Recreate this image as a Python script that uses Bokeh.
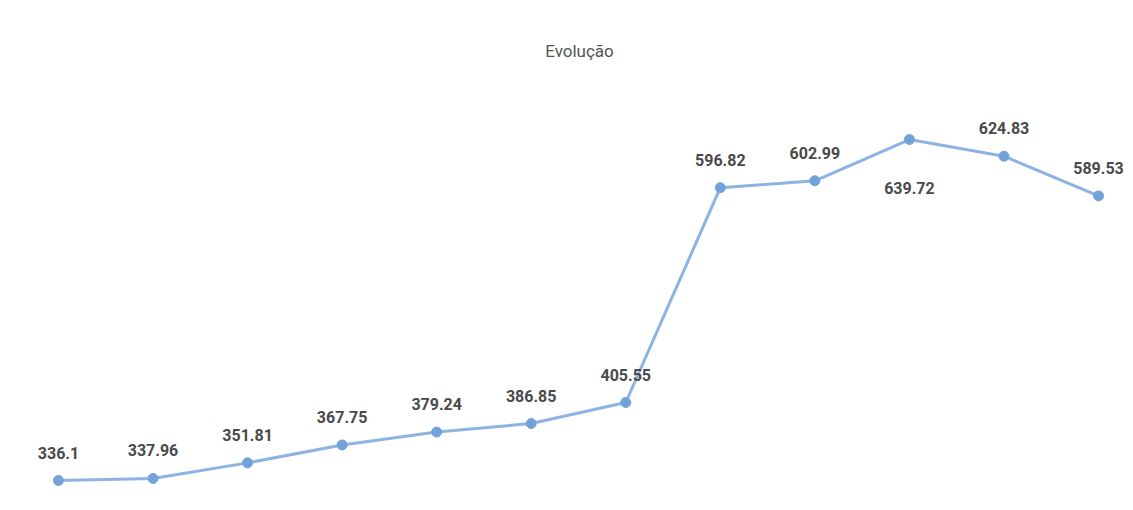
from bokeh.plotting import figure
from bokeh.models import Range1d, ColumnDataSource, Label
from bokeh.embed import file_html
from bokeh.resources import INLINE
from bokeh.core.properties import value

periods = list(range(12))
values = [336.1, 337.96, 351.81, 367.75, 379.24, 386.85, 405.55, 596.82, 602.99, 639.72, 624.83, 589.53]
labels = ["336.1", "337.96", "351.81", "367.75", "379.24", "386.85", "405.55", "596.82", "602.99", "639.72", "624.83", "589.53"]
below = [False, False, False, False, False, False, False, False, False, True, False, False]
title_text = "Evolução"

W, H = 1133, 510
p = figure(width=W, height=H, output_backend="svg", toolbar_location=None,
           x_range=Range1d(-0.613, 11.37), y_range=Range1d(309.4, 763.5),
           min_border=0, min_border_left=0, min_border_right=0, min_border_top=0, min_border_bottom=0)
p.xaxis.visible = False
p.yaxis.visible = False
p.grid.visible = False
p.outline_line_color = None
p.background_fill_color = "white"
p.border_fill_color = "white"

src = ColumnDataSource(dict(x=periods, y=values))
p.line("x", "y", source=src, line_color="#8cb3e2", line_width=3)
p.scatter("x", "y", source=src, marker="circle", size=10, fill_color="#73a2da", line_color="#73a2da")

font = value("Liberation Sans Narrow, Roboto, sans-serif")
up = ColumnDataSource(dict(x=[x for x, b in zip(periods, below) if not b],
                           y=[v for v, b in zip(values, below) if not b],
                           t=[t for t, b in zip(labels, below) if not b]))
dn = ColumnDataSource(dict(x=[x for x, b in zip(periods, below) if b],
                           y=[v for v, b in zip(values, below) if b],
                           t=[t for t, b in zip(labels, below) if b]))
common = dict(text="t", text_align="center", text_baseline="middle", text_font=font,
              text_font_size="16px", text_font_style="bold", text_color="#4a4a4a")
p.text("x", "y", source=up, y_offset=-28, **common)
p.text("x", "y", source=dn, y_offset=48, **common)

p.add_layout(Label(x=579, y=H - 50, x_units="screen", y_units="screen", text=title_text,
                   text_align="center", text_baseline="middle",
                   text_font="Liberation Sans Narrow, Roboto, sans-serif",
                   text_font_size="17px", text_color="#555555"))

open("out.html", "w").write(file_html(p, INLINE))
